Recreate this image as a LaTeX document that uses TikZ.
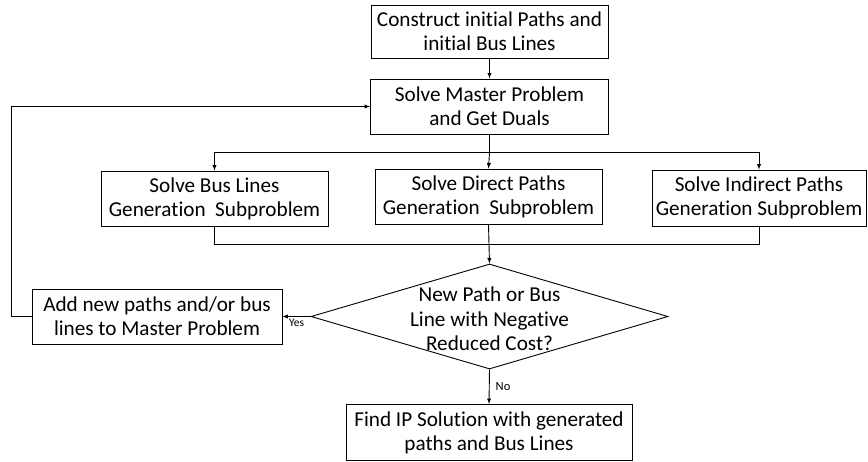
\documentclass[tikz,border=0pt]{standalone}
\usepackage{fontspec}
\setmainfont{Carlito}[Ligatures=NoCommon]
\usetikzlibrary{shapes.geometric}
\begin{document}
\begin{tikzpicture}
    [
    x=1pt,y=-1pt,
    font=\fontsize{21.2}{24}\selectfont,
    block/.style={draw,line width=0.9pt,rectangle,align=center,inner sep=0pt},
    decision/.style={draw,line width=0.9pt,diamond,inner sep=0pt,minimum width=357,minimum height=105},
    flow/.style={line width=0.9pt},
    tag/.style={font=\fontsize{11.5}{13}\selectfont,inner sep=2pt}
    ]
    \useasboundingbox (0,0) rectangle (868,461);
    \node (Init) at (489.5,31.5) [block,minimum width=237,minimum height=53] {Construct initial Paths and\\initial Bus Lines};
    \node (Master) at (489.5,106.5) [block,minimum width=238,minimum height=55] {Solve Master Problem\\and Get Duals};
    \node (SubB) at (214.5,198.5) [block,minimum width=227,minimum height=55] {Solve Bus Lines\\Generation\ \ Subproblem};
    \node (SubD) at (488.5,196.5) [block,minimum width=227,minimum height=55] {Solve Direct Paths\\Generation\ \ Subproblem};
    \node (SubI) at (759,198) [block,minimum width=214,minimum height=56] {Solve Indirect Paths\\Generation Subproblem};
    \node (Check) at (489.5,316.5) [decision,label={[align=center,yshift=-2.5pt,font=\fontsize{21.2}{24.5}\selectfont]center:New Path or Bus\\Line with Negative\\Reduced Cost?}] {};
    \node (Add) at (157,316.5) [block,minimum width=250,minimum height=55] {Add new paths and/or bus\\lines to Master Problem};
    \node (IP) at (489,432.5) [block,minimum width=286,minimum height=56] {Find IP Solution with generated\\paths and Bus Lines};
    \draw [flow,-latex] (Init) to (Master);
    \draw [flow] (Master.south) -- ++(0,18) coordinate (Split);
    \draw [flow,-latex] (Split) -| (SubB.north);
    \draw [flow,-latex] (Split) -| (SubI.north);
    \draw [flow,-latex] (Split) -- (SubD.north);
    \draw [flow] (SubB.south) -- ++(0,17.5) coordinate (Merge) -| (SubI.south);
    \draw [flow,-latex] (SubD.south) -- (Check.north);
    \draw [flow,-latex] (Check.west) -- node [tag,below] {Yes} (Add.east);
    \draw [flow,-latex] (Check.south) -- node [tag,right,inner sep=6pt,font=\fontsize{12.5}{14}\selectfont] {No} (IP.north);
    \draw [flow,-latex] (Add.west) -- ++(-20,0) |- (Master.west);
  \end{tikzpicture}
\end{document}
